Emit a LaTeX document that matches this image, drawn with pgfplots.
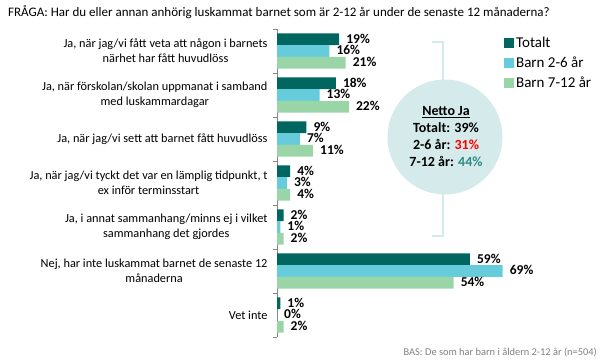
\documentclass[border=0pt]{standalone}
\usepackage{pgfplots}
\pgfplotsset{compat=1.18}
\usepackage{pgfplotstable}
\usepackage{fontspec}
\setmainfont{Carlito}
\definecolor{cT}{HTML}{00665F}
\definecolor{cA}{HTML}{66CCDB}
\definecolor{cB}{HTML}{99D5A6}
\definecolor{circ}{HTML}{D5EAEA}
\definecolor{axg}{HTML}{868686}
\definecolor{teal2}{HTML}{2E8B85}
\pgfplotstableread{
y T A B
6 19 16 21
5 18 13 22
4 9 7 11
3 4 3 4
2 2 1 2
1 59 69 54
0 1 0 2
}\data
\begin{document}
\begin{tikzpicture}
\useasboundingbox (0,0) rectangle (605bp,-361bp);
\node[anchor=base west, inner sep=0pt, font=\fontsize{13bp}{15bp}\selectfont] at (8bp,-16bp) {FRÅGA: Har du eller annan anhörig luskammat barnet som är 2-12 år under de senaste 12 månaderna?};
% circle and bracket
\fill[circ] (445bp,-137bp) circle (57.5bp);
\draw[circ, line width=2.5bp] (432bp,-42bp) -- (443bp,-42bp) -- (443bp,-82bp);
\draw[circ, line width=2.5bp] (443bp,-192bp) -- (443bp,-236bp) -- (432bp,-236bp);
\node[align=center, font=\bfseries\fontsize{14bp}{17bp}\selectfont, inner sep=0pt] at (446bp,-137bp) {\underline{Netto Ja}\\Totalt: 39\%\\2-6 år: \textcolor{red}{31\%}\\7-12 år: \textcolor{teal2}{44\%}};
\node[anchor=base east, inner sep=0pt, text=gray, font=\fontsize{10.4bp}{12bp}\selectfont] at (597bp,-355bp) {BAS: De som har barn i åldern 2-12 år (n=504)};
\begin{axis}[
  at={(277bp,-337bp)}, anchor=south west,
  scale only axis, width=327bp, height=308bp,
  xmin=0, xmax=100, ymin=-0.5, ymax=6.5,
  xbar, bar width=11.7bp,
  axis x line=none,
  axis y line*=left,
  y axis line style={axg, -},
  ytick={0,...,6},
  major tick length=0pt,
  minor ytick={-0.5,0.5,...,6.5},
  minor tick length=4bp,
  tick align=outside,
  minor tick style={axg},
  /pgf/number format/assume math mode=true,
  yticklabels={{Vet inte},{Nej, har inte luskammat barnet de senaste 12\\månaderna},{Ja, i annat sammanhang/minns ej i vilket\\sammanhang det gjordes},{Ja, när jag/vi tyckt det var en lämplig tidpunkt, t\\ex inför terminsstart},{Ja, när jag/vi sett att barnet fått huvudlöss},{Ja, när förskolan/skolan uppmanat i samband\\med luskammardagar},{Ja, när jag/vi fått veta att någon i barnets\\närhet har fått huvudlöss}},
  yticklabel style={align=center, font=\fontsize{12.3bp}{15bp}\selectfont, xshift=-6bp},
  nodes near coords={\pgfmathprintnumber{\pgfplotspointmeta}\%},
  nodes near coords style={font=\bfseries\fontsize{13.5bp}{14bp}\selectfont, anchor=west, inner sep=0pt, text height=9bp, text depth=1.2bp, xshift=7bp},
  legend style={at={(rel axis cs:0.694,0.98)}, anchor=north west, draw=none, fill=none, font=\fontsize{15bp}{17bp}\selectfont, row sep=4bp, inner sep=0pt},
  legend cell align=left,
  legend image code/.code={\fill[#1] (0bp,-5bp) rectangle (10bp,5bp);},
]
\addplot[fill=cT, draw=none, bar shift=11.7bp] table[x=T, y=y] {\data};
\addplot[fill=cA, draw=none, bar shift=0bp] table[x=A, y=y] {\data};
\addplot[fill=cB, draw=none, bar shift=-11.7bp] table[x=B, y=y] {\data};
\legend{Totalt, Barn 2-6 år, Barn 7-12 år}
\end{axis}
\end{tikzpicture}
\end{document}
